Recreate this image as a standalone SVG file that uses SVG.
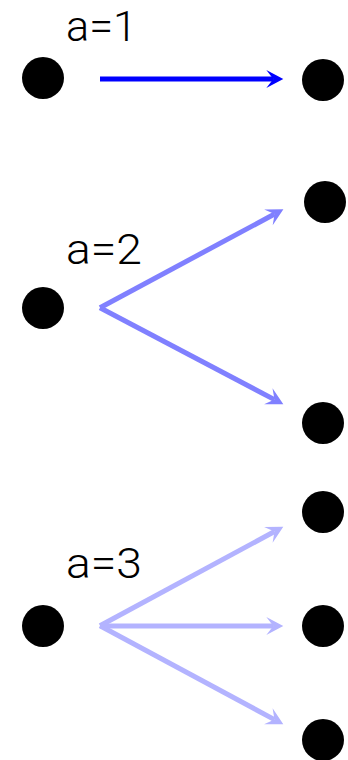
<svg xmlns="http://www.w3.org/2000/svg" width="348" height="760" viewBox="0 0 348 760">
<style>
.dot{fill:#000}
.lbl{font-family:Roboto,"Liberation Sans",sans-serif;font-weight:300;font-size:42px;fill:#000}
.e1{stroke:#0000ff;stroke-width:5;fill:none}
.e2{stroke:#8080ff;stroke-width:5;fill:none}
.e3{stroke:#b3b3ff;stroke-width:5;fill:none}
</style>
<defs>
<marker id="h1" markerUnits="userSpaceOnUse" markerWidth="30" markerHeight="30" viewBox="-10 -15 30 30" refX="0" refY="0" orient="auto" overflow="visible"><path d="M10,0 L-7,-9 L0,0 L-7,9 Z" fill="#0000ff"/></marker>
<marker id="h2" markerUnits="userSpaceOnUse" markerWidth="30" markerHeight="30" viewBox="-10 -15 30 30" refX="0" refY="0" orient="auto" overflow="visible"><path d="M10,0 L-7,-9 L0,0 L-7,9 Z" fill="#8080ff"/></marker>
<marker id="h3" markerUnits="userSpaceOnUse" markerWidth="30" markerHeight="30" viewBox="-10 -15 30 30" refX="0" refY="0" orient="auto" overflow="visible"><path d="M10,0 L-7,-9 L0,0 L-7,9 Z" fill="#b3b3ff"/></marker>
</defs>
<g id="connectors">
<line class="e1" x1="100" y1="79" x2="273.3" y2="79" marker-end="url(#h1)"/>
<line class="e2" x1="100" y1="307.7" x2="274.6" y2="214.0" marker-end="url(#h2)"/>
<line class="e2" x1="100" y1="307.7" x2="274.5" y2="399.6" marker-end="url(#h2)"/>
<line class="e3" x1="100" y1="625.7" x2="274.5" y2="531.5" marker-end="url(#h3)"/>
<line class="e3" x1="100" y1="626" x2="273.3" y2="626" marker-end="url(#h3)"/>
<line class="e3" x1="100" y1="625.7" x2="274.5" y2="719.6" marker-end="url(#h3)"/>
</g>
<g id="label1"><text class="lbl" x="66" y="41" textLength="71" lengthAdjust="spacingAndGlyphs">a=1</text></g>
<g id="label2"><text class="lbl" x="66" y="264" textLength="76" lengthAdjust="spacingAndGlyphs">a=2</text></g>
<g id="label3"><text class="lbl" x="66" y="578" textLength="76" lengthAdjust="spacingAndGlyphs">a=3</text></g>
<g id="n1a"><circle class="dot" cx="43" cy="78" r="21"/></g>
<g id="n1b"><circle class="dot" cx="323" cy="80" r="21"/></g>
<g id="n2a"><circle class="dot" cx="43" cy="308" r="21"/></g>
<g id="n2b"><circle class="dot" cx="325" cy="202" r="21"/></g>
<g id="n2c"><circle class="dot" cx="323" cy="423" r="21"/></g>
<g id="n3a"><circle class="dot" cx="43" cy="626" r="21"/></g>
<g id="n3b"><circle class="dot" cx="323" cy="512" r="21"/></g>
<g id="n3c"><circle class="dot" cx="323" cy="626" r="21"/></g>
<g id="n3d"><circle class="dot" cx="323" cy="740" r="21"/></g>
</svg>
